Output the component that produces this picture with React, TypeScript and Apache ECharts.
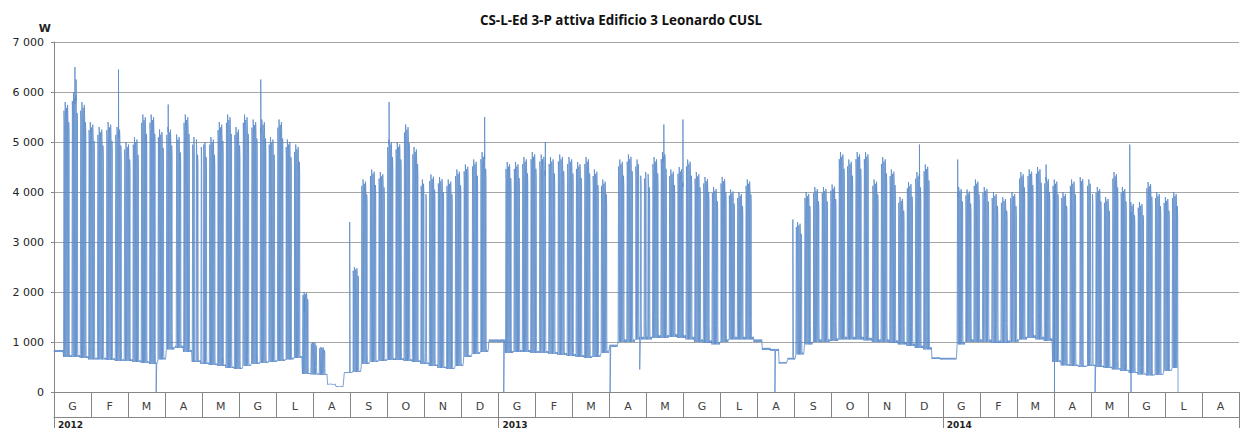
import React, { useEffect, useRef } from "react";
import * as echarts from "echarts";

const TITLE = "CS-L-Ed 3-P attiva Edificio 3 Leonardo CUSL";
const monthLetters = ["G", "F", "M", "A", "M", "G", "L", "A", "S", "O", "N", "D"];
const yearLabels = ["2012", "2013", "2014"];
const monthCount = 32;

// weekly working-day peak (W), one value per week starting on Monday (0 = no activity)
const peaks2012 = [
  0, 5800, 6000, 5800, 5400, 5300, 5400, 5300, 5000, 5100, 5550, 5550, 5250,
  5300, 5150, 5550, 5100, 5050, 5100, 5400, 5550, 5300, 5550, 5450, 5450, 5100,
  5450, 5050, 4950, 2000, 1000, 900, 0, 0, 0, 2500, 4250, 4450, 4400, 5050,
  5000, 5350, 4900, 4250, 4350, 4300, 4250, 4450, 4550, 4650, 4800, 0, 0,
];
const peaks2013 = [
  4600, 4600, 4700, 4800, 4750, 4700, 4750, 4700, 4600, 4700, 4450, 4250, 0,
  4650, 4750, 4650, 4400, 4700, 4800, 4450, 4500, 4650, 4400, 4300, 4100, 4300,
  4050, 4000, 4250, 0, 0, 0, 0, 0, 3400, 4000, 4100, 4100, 4150, 4800,
  4650, 4800, 4800, 4250, 4700, 4450, 3900, 4200, 4400, 4550, 0, 0,
];
const peaks2014 = [
  0, 4100, 4050, 4250, 4100, 4000, 3900, 4000, 4400, 4450, 4500, 4300, 4250,
  4000, 4250, 4300, 4250, 4100, 3900, 4400, 4100, 3800, 3800, 4200, 4000, 3900,
  4000,
];

// weekly night / weekend base load (W)
const bases2012 = [
  800, 700, 700, 680, 650, 650, 640, 620, 620, 600, 580, 560, 650,
  850, 880, 800, 600, 560, 540, 520, 480, 460, 520, 560, 580, 600,
  620, 650, 680, 360, 350, 340, 150, 110, 380, 400, 560, 600, 620, 640,
  640, 620, 600, 560, 520, 480, 460, 520, 700, 760, 800, 1000, 1000,
];
const bases2013 = [
  780, 800, 800, 780, 780, 760, 740, 720, 700, 680, 700, 780, 900,
  1000, 1000, 1050, 1050, 1080, 1080, 1100, 1080, 1050, 1000, 980, 950, 1000,
  1050, 1050, 1050, 1000, 840, 820, 570, 650, 750, 950, 1000, 1000, 1020, 1050,
  1050, 1050, 1030, 1000, 1000, 980, 950, 920, 880, 850, 660, 650,
];
const bases2014 = [
  650, 950, 1000, 1000, 1000, 980, 980, 1000, 1050, 1080, 1050, 1020, 600,
  530, 520, 500, 520, 500, 480, 450, 420, 380, 350, 330, 340, 420,
  480,
];

const holidays = [
  "2012-04-09", "2012-04-25", "2012-05-01", "2012-11-01", "2012-12-07",
  "2013-04-25", "2013-05-01", "2013-11-01",
  "2014-04-21", "2014-04-25", "2014-05-01", "2014-06-02",
];
const weekdayFactor = [0.97, 1.0, 0.98, 0.99, 0.93];

// isolated readings: short peaks and drops to zero
const events: [string, number][] = [
  ["2012-01-18", 6500], ["2012-01-19", 6250], ["2012-02-22", 6450],
  ["2012-03-24", 0], ["2012-04-03", 5750], ["2012-06-18", 6250],
  ["2012-07-24", 1600], ["2012-08-31", 3400], ["2012-10-02", 5800],
  ["2012-12-20", 5500], ["2013-01-05", 0], ["2013-02-08", 5000],
  ["2013-04-01", 0], ["2013-04-25", 450], ["2013-05-15", 5350],
  ["2013-05-31", 5450], ["2013-08-15", 0], ["2013-08-30", 3450],
  ["2013-12-12", 4950], ["2014-01-13", 4650], ["2014-03-25", 4550],
  ["2014-04-01", 0], ["2014-05-04", 0], ["2014-06-02", 4950], ["2014-06-03", 0],
];
const firstDay = "2012-01-01";
const lastDay = "2014-07-11";
const finalValue = 0;

const yTicks = [0, 1000, 2000, 3000, 4000, 5000, 6000, 7000];

function buildData(): [number, number][] {
  const peaks = [...peaks2012, ...peaks2013, ...peaks2014];
  const bases = [...bases2012, ...bases2013, ...bases2014];
  const ev = new Map<string, number[]>();
  events.forEach(([d, v]) => {
    if (!ev.has(d)) ev.set(d, []);
    ev.get(d)!.push(v);
  });
  const start = Date.parse(firstDay + "T00:00:00Z");
  const end = Date.parse(lastDay + "T00:00:00Z");
  const pts: [number, number][] = [];
  let lastX = 0;
  for (let t = start, i = 0; t <= end; t += 86400000, i++) {
    const d = new Date(t);
    const y = d.getUTCFullYear();
    const m = d.getUTCMonth();
    const dd = d.getUTCDate();
    const mi = (y - 2012) * 12 + m;
    const dim = new Date(Date.UTC(y, m + 1, 0)).getUTCDate();
    const xOf = (h: number) => mi + (dd - 1 + h / 24) / dim;
    const key = d.toISOString().slice(0, 10);
    const w = Math.min(peaks.length - 1, Math.max(0, Math.floor((i - 1) / 7)));
    const dow = d.getUTCDay();
    const base = bases[w];
    const peak = peaks[w];
    const working = dow >= 1 && dow <= 5 && peak > 0 && !holidays.includes(key);
    let day: [number, number][];
    if (working) {
      const p = peak * weekdayFactor[dow - 1];
      day = [
        [0, base], [6.5, base], [8.5, p], [12, p * 0.98], [16, p * 0.95],
        [19, base * 1.4], [22, base * 1.1],
      ];
    } else {
      day = [[0, base], [12, base * 1.05]];
    }
    (ev.get(key) || []).forEach((v, k) => day.push([12.3 + k * 0.3, v]));
    day.sort((a, b) => a[0] - b[0]);
    day.forEach(([h, v]) => pts.push([xOf(h), Math.round(v)]));
    lastX = xOf(23);
  }
  pts.push([lastX, finalValue]);
  return pts;
}

const fmtY = (v: number) => (v === 0 ? "0" : `${v / 1000} 000`);

export default function App() {
  const ref = useRef<HTMLDivElement>(null);
  useEffect(() => {
    document.body.style.margin = "0";
    if (!ref.current) return;
    const chart = echarts.init(ref.current, undefined, { renderer: "svg" });
    const monthCats = Array.from({ length: monthCount }, (_, i) => monthLetters[i % 12]);
    const axisColor = "#868686";
    const font = "DejaVu Sans";
    chart.setOption({
      animation: false,
      backgroundColor: "#ffffff",
      title: {
        text: TITLE,
        left: "center",
        top: 8,
        textStyle: { fontFamily: "Open Sans", fontWeight: "bold", fontSize: 13.4, color: "#111" },
      },
      grid: { left: 54, right: -4, top: 42, bottom: 36, containLabel: false },
      xAxis: [
        {
          type: "value",
          min: 0,
          max: monthCount,
          interval: 12,
          position: "bottom",
          axisLine: { show: false },
          axisTick: { show: true, length: 36, lineStyle: { color: axisColor } },
          axisLabel: {
            show: true,
            margin: 28,
            align: "left",
            padding: [0, 0, 0, 4],
            fontSize: 9,
            fontWeight: "bold",
            fontFamily: font,
            color: "#222",
            formatter: (v: number) => yearLabels[v / 12] ?? "",
          },
          splitLine: { show: false },
        },
        {
          type: "category",
          data: monthCats,
          boundaryGap: true,
          position: "bottom",
          axisLine: { show: true, lineStyle: { color: axisColor } },
          axisTick: { show: true, length: 25, interval: 0, lineStyle: { color: axisColor } },
          axisLabel: { interval: 0, margin: 9, fontSize: 11, fontFamily: font, color: "#404040" },
          splitLine: { show: false },
        },
        {
          type: "value",
          min: 0,
          max: monthCount,
          position: "bottom",
          offset: 25,
          axisLine: { show: true, lineStyle: { color: axisColor } },
          axisTick: { show: false },
          axisLabel: { show: false },
          splitLine: { show: false },
        },
      ],
      yAxis: {
        type: "value",
        min: yTicks[0],
        max: yTicks[yTicks.length - 1],
        interval: 1000,
        name: "W",
        nameLocation: "end",
        nameGap: 8,
        nameTextStyle: {
          fontFamily: font,
          fontWeight: "bold",
          fontSize: 11,
          color: "#222",
          align: "right",
          padding: [0, 3, 0, 0],
        },
        axisLine: { show: true, lineStyle: { color: axisColor } },
        axisTick: { show: true, length: 3, lineStyle: { color: axisColor } },
        axisLabel: { margin: 10, fontSize: 11, fontFamily: font, color: "#222", formatter: fmtY },
        splitLine: { show: true, lineStyle: { color: "#A6A6A6", width: 1 } },
      },
      series: [
        {
          type: "line",
          xAxisIndex: 0,
          yAxisIndex: 0,
          data: buildData(),
          showSymbol: false,
          symbol: "none",
          silent: true,
          lineStyle: { width: 0.8, color: "#5A8AC9" },
          itemStyle: { color: "#5A8AC9" },
        },
      ],
    });
    return () => chart.dispose();
  }, []);
  return <div ref={ref} style={{ width: 1242, height: 429 }} />;
}
